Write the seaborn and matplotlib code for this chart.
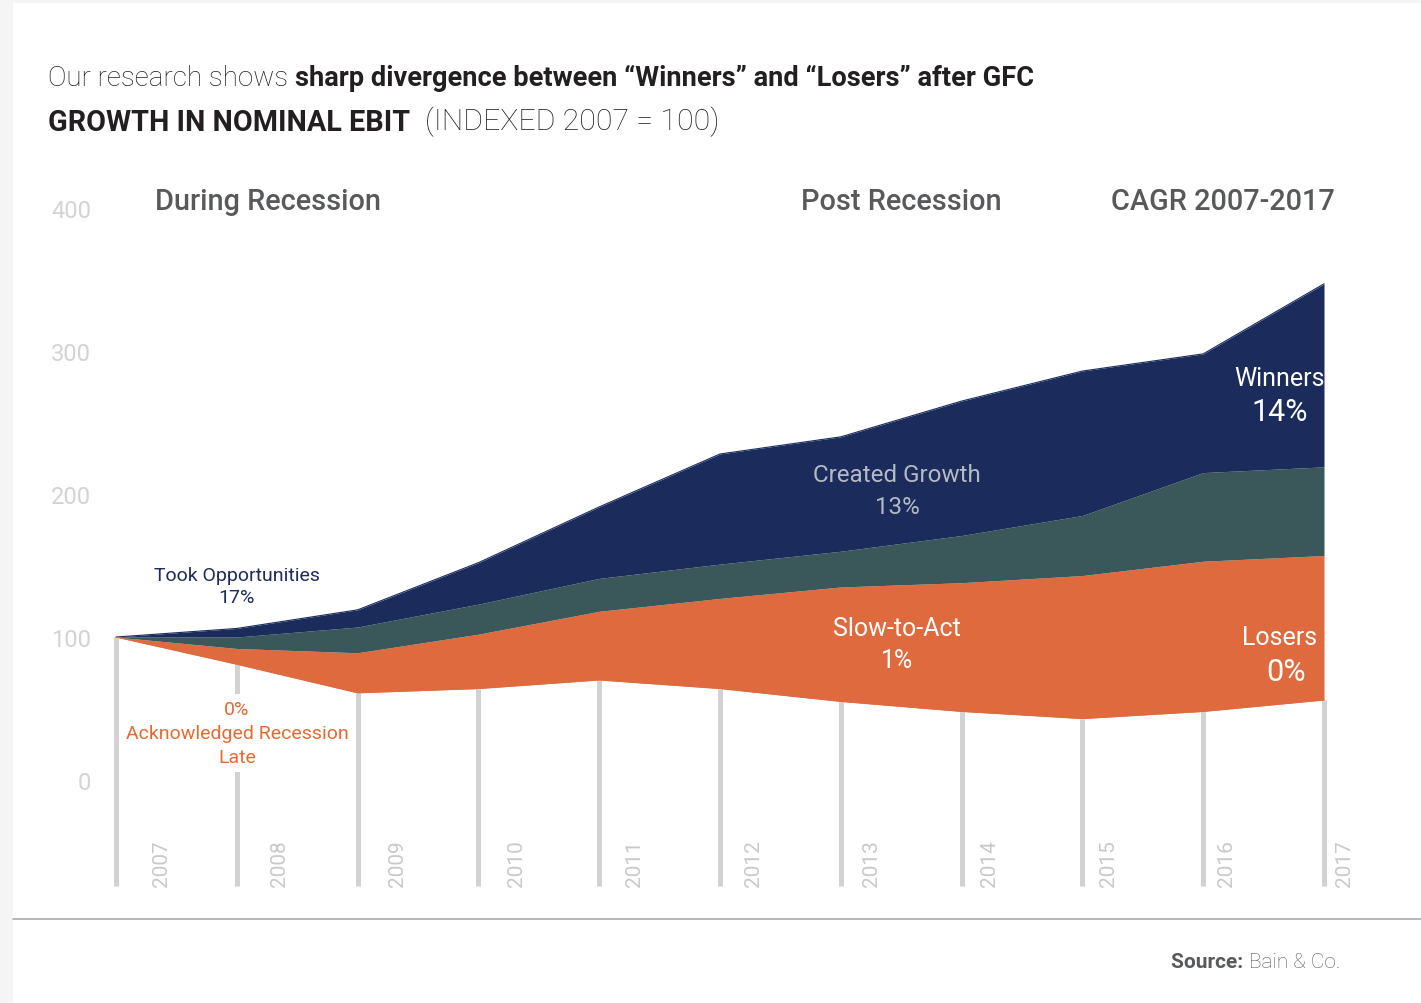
import matplotlib
matplotlib.use("Agg")
import matplotlib.pyplot as plt
import seaborn as sns
import pandas as pd
from matplotlib.patches import Rectangle
from matplotlib.lines import Line2D

# ---------------- data ----------------
years = [2007, 2008, 2009, 2010, 2011, 2012, 2013, 2014, 2015, 2016, 2017]
year_labels = [str(y) for y in years]
losers_bottom = [100, 81, 61, 64, 70, 64, 55, 48, 43, 48, 56]
losers_top = [100, 92, 89, 102, 118, 127, 135, 138, 143, 153, 157]
middle_top = [100, 100, 107, 123, 141, 151, 160, 171, 185, 215, 219]
winners_top = [100, 106, 119, 152, 191, 228, 240, 265, 286, 298, 347]
y_ticks = [0, 100, 200, 300, 400]
y_tick_labels = ["0", "100", "200", "300", "400"]

# ---------------- style ----------------
NAVY = "#1b2b5b"
GREEN = "#3a5759"
ORANGE = "#de6a3e"
ORANGE_TXT = "#e8692f"
GRID = "#d2d2d4"
HEAD = "#58595b"
TITLE = "#231f20"

sns.set_theme(style="white")
plt.rcParams["font.family"] = ["Roboto", "DejaVu Sans"]

W, H = 1421, 1004
fig = plt.figure(figsize=(W / 100, H / 100), dpi=100)
fig.patch.set_facecolor("#f5f5f5")
fig.add_artist(Rectangle((13 / W, 0), 1, (H - 4) / H, transform=fig.transFigure,
                         facecolor="white", edgecolor="none", zorder=-5))


def fx(px):
    return px / W


def fy(py):
    return 1 - py / H


ax = fig.add_axes([100 / W, (H - 890) / H, 1250 / W, 710 / H])
ax.set_facecolor("none")
ax.set_xlim(2007 - 16 / 120.8, 2017 + 26 / 120.8)
ax.set_ylim(-76.2, 420.3)


def dx(px):
    return 2007 + (px - 116) / 120.8


def dy(py):
    return (781 - py) / 1.43


# vertical year lines
ax.vlines(years, -74, losers_bottom, color=GRID, lw=3.6, zorder=1)

# bands
ax.fill_between(years, losers_bottom, losers_top, color=ORANGE, lw=0, zorder=2)
ax.fill_between(years, losers_top, middle_top, color=GREEN, lw=0, zorder=2)
ax.fill_between(years, middle_top, winners_top, color=NAVY, lw=0, zorder=2)

df = pd.DataFrame({"year": years * 2,
                   "value": winners_top + losers_bottom,
                   "edge": ["top"] * len(years) + ["bottom"] * len(years)})
sns.lineplot(data=df, x="year", y="value", hue="edge",
             palette={"top": NAVY, "bottom": ORANGE}, lw=0.8, legend=False,
             ax=ax, zorder=3)

# year labels (slightly tighter spacing than the lines, as in the reference)
for i, (yr, lab) in enumerate(zip(years, year_labels)):
    ax.text(dx(161) + i * 118.4 / 120.8, -74, lab, rotation=90, ha="center", va="bottom",
            color="#c9c9cc", fontsize=15, zorder=1)

ax.set_yticks(y_ticks)
ax.set_yticklabels(y_tick_labels)
ax.set_xticks([])
ax.set_xlabel("")
ax.set_ylabel("")
ax.tick_params(axis="y", length=0, pad=6.5, labelcolor="#d3d3d3", labelsize=17)
sns.despine(ax=ax, left=True, bottom=True)

# in-chart annotations
ax.text(dx(237), dy(587), "Took Opportunities\n17%", ha="center", va="center",
        color=NAVY, fontsize=14, linespacing=1.3, zorder=5)
ax.text(dx(237), dy(734), "0%\nAcknowledged Recession\nLate", ha="center", va="center",
        color=ORANGE_TXT, fontsize=14, linespacing=1.45, zorder=5,
        bbox=dict(facecolor="white", edgecolor="none", pad=4))
ax.text(dx(897), dy(491), "Created Growth\n13%", ha="center", va="center",
        color="#b5b9c3", fontsize=17.4, linespacing=1.5, zorder=5)
ax.text(dx(897), dy(645), "Slow-to-Act\n1%", ha="center", va="center",
        color="white", fontsize=18, linespacing=1.4, zorder=5)
ax.text(dx(1280), dy(379), "Winners", ha="center", va="center",
        color="white", fontsize=18, zorder=5)
ax.text(dx(1280), dy(412), "14%", ha="center", va="center",
        color="white", fontsize=22, zorder=5)
ax.text(dx(1280), dy(638), "Losers", ha="center", va="center",
        color="white", fontsize=18, zorder=5)
ax.text(dx(1286), dy(672), "0%", ha="center", va="center",
        color="white", fontsize=22, zorder=5)

# headers
fig.text(fx(155), fy(202), "During Recession", ha="left", va="center",
         fontsize=20.8, color=HEAD, fontweight="medium")
fig.text(fx(901), fy(202), "Post Recession", ha="center", va="center",
         fontsize=20.8, color=HEAD, fontweight="medium")
fig.text(fx(1335), fy(202), "CAGR 2007-2017", ha="right", va="center",
         fontsize=20.8, color=HEAD, fontweight="medium")

# title lines
t1 = fig.text(fx(48), fy(86), "Our research shows ", ha="left", va="baseline",
              fontsize=20, color=TITLE, fontweight="light")
ax.annotate("sharp divergence between \u201cWinners\u201d and \u201cLosers\u201d after GFC",
            xy=(1, 0), xycoords=t1, ha="left", va="bottom",
            fontsize=19.6, color=TITLE, fontweight="bold", annotation_clip=False)
t3 = fig.text(fx(48), fy(131), "GROWTH IN NOMINAL EBIT", ha="left", va="baseline",
              fontsize=20.7, color=TITLE, fontweight="bold")
ax.annotate("(INDEXED 2007 = 100)", xy=(1, 0), xycoords=t3, xytext=(11, 0),
            textcoords="offset points", ha="left", va="bottom",
            fontsize=21.8, color=TITLE, fontweight="light", annotation_clip=False)

# footer
fig.add_artist(Line2D([13 / W, 1], [fy(920), fy(920)], transform=fig.transFigure,
                      color="#a9a9b0", lw=1.2))
s2 = fig.text(fx(1340), fy(968), "Bain & Co.", ha="right", va="baseline",
              fontsize=15, color=HEAD, fontweight="light")
ax.annotate("Source: ", xy=(0, 0), xycoords=s2, ha="right", va="bottom",
            fontsize=15, color=HEAD, fontweight="bold", annotation_clip=False)

fig.savefig("out.png", dpi=100, facecolor=fig.get_facecolor())
